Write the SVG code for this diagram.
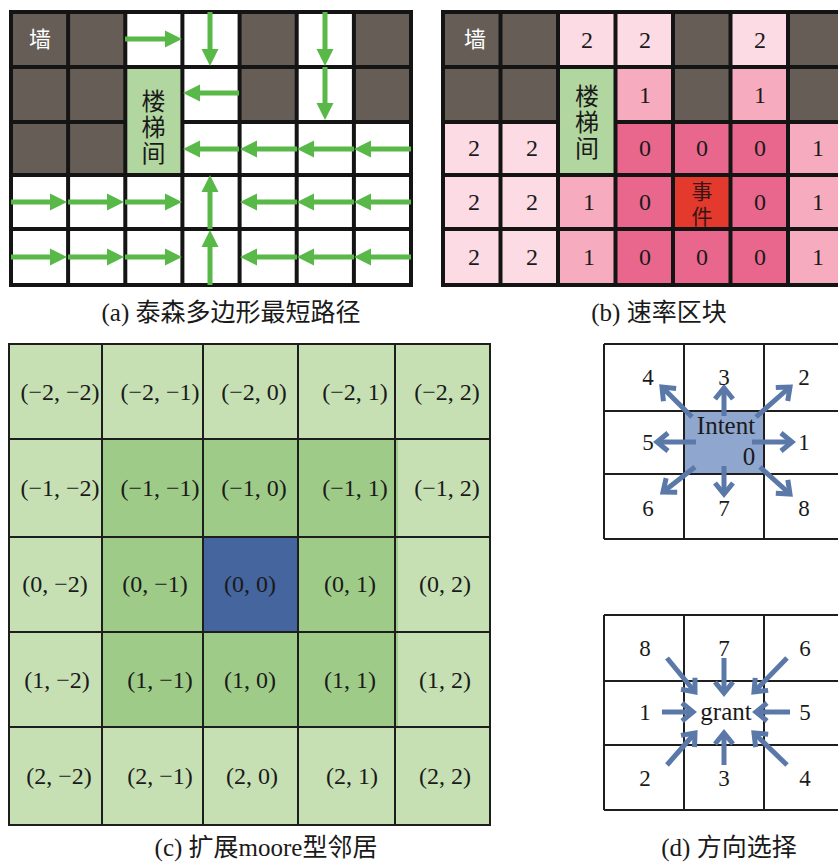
<svg xmlns="http://www.w3.org/2000/svg" width="838" height="864" viewBox="0 0 838 864">
<defs>
<style>
.t{font-family:"Liberation Serif","Noto Sans CJK SC",serif;fill:#1a1a1a;text-anchor:middle}
.cap{font-size:25px}
.n{font-size:24px}
.cj{font-size:24px}
.wl{font-size:22px;fill:#ffffff}
.W{fill:#655d56}
.S{fill:#b2d69f}
.L{fill:#fddbe4}
.M{fill:#f6abbf}
.D{fill:#e9678d}
.E{fill:#e4392d}
.g1{fill:#c6e0b4}
.g2{fill:#9fcb88}
.bl{fill:#45659f}
.grid{fill:none;stroke:#141414;stroke-width:4}
.grid2{fill:none;stroke:#1e1e1e;stroke-width:2}
.ga{stroke:#58b848;stroke-width:5;fill:none;marker-end:url(#gh)}
.ba{stroke:#5a78a8;stroke-width:5;fill:none;marker-end:url(#bh)}
</style>
<marker id="gh" markerUnits="userSpaceOnUse" markerWidth="20" markerHeight="20" viewBox="0 -10 20 20" refX="1" refY="0" orient="auto" overflow="visible">
<path d="M0,-8.5 L17,0 L0,8.5 z" fill="#58b848"/>
</marker>
<marker id="bh" markerUnits="userSpaceOnUse" markerWidth="24" markerHeight="24" viewBox="-12 -12 24 24" refX="0" refY="0" orient="auto" overflow="visible">
<path d="M-11,-9 L0,0 L-11,9" fill="none" stroke="#5a78a8" stroke-width="5"/>
</marker>
</defs>
<rect width="838" height="864" fill="#ffffff"/>

<!-- Panel (a) -->
<g id="panel-a">
<rect x="11" y="12" width="400" height="273" fill="#ffffff"/>
<g id="a-walls">
<rect class="W" x="11" y="12" width="57.1" height="55"/>
<rect class="W" x="68.1" y="12" width="57.2" height="55"/>
<rect class="W" x="239.6" y="12" width="57.1" height="55"/>
<rect class="W" x="353.9" y="12" width="57.1" height="55"/>
<rect class="W" x="11" y="67" width="57.1" height="55"/>
<rect class="W" x="68.1" y="67" width="57.2" height="55"/>
<rect class="W" x="239.6" y="67" width="57.1" height="55"/>
<rect class="W" x="353.9" y="67" width="57.1" height="55"/>
<rect class="W" x="11" y="122" width="57.1" height="53"/>
<rect class="W" x="68.1" y="122" width="57.2" height="53"/>
</g>
<g id="a-stairs"><rect class="S" x="125.3" y="67" width="57.1" height="108"/>
<text class="t cj" x="153.5" y="110">楼</text>
<text class="t cj" x="153.5" y="136">梯</text>
<text class="t cj" x="153.5" y="162">间</text>
</g>
<text class="t wl" x="40" y="47">墙</text>
<path class="grid" d="M11,12 H411 V285 H11 Z M68.1,12 V285 M125.3,12 V285 M182.4,12 V285 M239.6,12 V285 M296.7,12 V285 M353.9,12 V285 M11,67 H411 M11,122 H125.3 M182.4,122 H411 M11,175 H411 M11,229 H411"/>
</g>

<!-- Panel (b) -->
<g id="panel-b">
<rect class="W" x="443" y="12" width="57.5" height="55"/>
<rect class="W" x="500.5" y="12" width="57.5" height="55"/>
<rect class="L" x="558" y="12" width="57.5" height="55"/>
<rect class="L" x="615.5" y="12" width="57.5" height="55"/>
<rect class="W" x="673" y="12" width="57.5" height="55"/>
<rect class="L" x="730.5" y="12" width="57.5" height="55"/>
<rect class="W" x="788" y="12" width="57.5" height="55"/>
<rect class="W" x="443" y="67" width="57.5" height="55"/>
<rect class="W" x="500.5" y="67" width="57.5" height="55"/>
<rect class="S" x="558" y="67" width="57.5" height="108"/>
<rect class="M" x="615.5" y="67" width="57.5" height="55"/>
<rect class="W" x="673" y="67" width="57.5" height="55"/>
<rect class="M" x="730.5" y="67" width="57.5" height="55"/>
<rect class="W" x="788" y="67" width="57.5" height="55"/>
<rect class="L" x="443" y="122" width="57.5" height="53"/>
<rect class="L" x="500.5" y="122" width="57.5" height="53"/>
<rect class="D" x="615.5" y="122" width="57.5" height="53"/>
<rect class="D" x="673" y="122" width="57.5" height="53"/>
<rect class="D" x="730.5" y="122" width="57.5" height="53"/>
<rect class="M" x="788" y="122" width="57.5" height="53"/>
<rect class="L" x="443" y="175" width="57.5" height="54"/>
<rect class="L" x="500.5" y="175" width="57.5" height="54"/>
<rect class="M" x="558" y="175" width="57.5" height="54"/>
<rect class="D" x="615.5" y="175" width="57.5" height="54"/>
<rect class="E" x="673" y="175" width="57.5" height="54"/>
<rect class="D" x="730.5" y="175" width="57.5" height="54"/>
<rect class="M" x="788" y="175" width="57.5" height="54"/>
<rect class="L" x="443" y="229" width="57.5" height="56"/>
<rect class="L" x="500.5" y="229" width="57.5" height="56"/>
<rect class="M" x="558" y="229" width="57.5" height="56"/>
<rect class="D" x="615.5" y="229" width="57.5" height="56"/>
<rect class="D" x="673" y="229" width="57.5" height="56"/>
<rect class="D" x="730.5" y="229" width="57.5" height="56"/>
<rect class="M" x="788" y="229" width="57.5" height="56"/>
<path class="grid" d="M443,12 H845.5 V285 H443 Z M500.5,12 V285 M558,12 V285 M615.5,12 V285 M673,12 V285 M730.5,12 V285 M788,12 V285 M443,67 H845.5 M443,122 H558 M615.5,122 H845.5 M443,175 H845.5 M443,229 H845.5"/>
<text class="t wl" x="475" y="47">墙</text>
<text class="t cj" x="587" y="105">楼</text>
<text class="t cj" x="587" y="131">梯</text>
<text class="t cj" x="587" y="157">间</text>
<text class="t" x="702" y="199" style="fill:#3a1414;font-size:21px">事</text>
<text class="t" x="702" y="224" style="fill:#3a1414;font-size:21px">件</text>
<g class="t n">
<text x="587" y="48">2</text><text x="645" y="48">2</text><text x="760" y="48">2</text>
<text x="645" y="103">1</text><text x="760" y="103">1</text>
<text x="474" y="156">2</text><text x="532" y="156">2</text><text x="645" y="156">0</text><text x="702" y="156">0</text><text x="760" y="156">0</text><text x="818" y="156">1</text>
<text x="474" y="210">2</text><text x="532" y="210">2</text><text x="589" y="210">1</text><text x="645" y="210">0</text><text x="760" y="210">0</text><text x="818" y="210">1</text>
<text x="474" y="265">2</text><text x="532" y="265">2</text><text x="589" y="265">1</text><text x="645" y="265">0</text><text x="702" y="265">0</text><text x="760" y="265">0</text><text x="818" y="265">1</text>
</g>
</g>

<!-- Panel (c) -->
<g id="panel-c">
<rect class="g1" x="9" y="344" width="481" height="481"/>
<rect class="g2" x="102" y="439" width="296" height="288"/>
<rect class="bl" x="203" y="537" width="95" height="95"/>
<path class="grid2" d="M9,344 H490 V825 H9 Z M102,344 V825 M203,344 V825 M298,344 V825 M395,344 V825 M9,439 H490 M9,537 H490 M9,632 H490 M9,727 H490"/>
<g class="t n">
<text x="60" y="400">(−2, −2)</text><text x="160" y="400">(−2, −1)</text><text x="254" y="400">(−2, 0)</text><text x="355" y="400">(−2, 1)</text><text x="447" y="400">(−2, 2)</text>
<text x="60" y="496">(−1, −2)</text><text x="160" y="496">(−1, −1)</text><text x="254" y="496">(−1, 0)</text><text x="355" y="496">(−1, 1)</text><text x="447" y="496">(−1, 2)</text>
<text x="55" y="592">(0, −2)</text><text x="155" y="592">(0, −1)</text><text x="250" y="592">(0, 0)</text><text x="350" y="592">(0, 1)</text><text x="445" y="592">(0, 2)</text>
<text x="57" y="688">(1, −2)</text><text x="160" y="688">(1, −1)</text><text x="250" y="688">(1, 0)</text><text x="350" y="688">(1, 1)</text><text x="445" y="688">(1, 2)</text>
<text x="59" y="784">(2, −2)</text><text x="160" y="784">(2, −1)</text><text x="252" y="784">(2, 0)</text><text x="352" y="784">(2, 1)</text><text x="445" y="784">(2, 2)</text>
</g>
</g>

<!-- Panel (d) -->
<g id="panel-d-intent">
<rect x="684" y="411" width="80" height="63" fill="#8fa6cf"/>
<path class="grid2" d="M604,344 H845 M604,411 H845 M604,474 H845 M604,539 H845 M604,344 V539 M684,344 V539 M764,344 V539"/>
</g>
<g id="panel-d-grant">
<path class="grid2" d="M604,615 H845 M604,681 H845 M604,745 H845 M604,810 H845 M604,615 V810 M684,615 V810 M764,615 V810"/>
</g>

<!-- connectors -->
<g id="connectors">
<g id="a-arrows">
<line class="ga" x1="125" y1="39" x2="166" y2="39"/>
<line class="ga" x1="210" y1="12" x2="210" y2="50"/>
<line class="ga" x1="325" y1="12" x2="325" y2="50"/>
<line class="ga" x1="325" y1="67" x2="325" y2="104"/>
<line class="ga" x1="239" y1="93" x2="199" y2="93"/>
<line class="ga" x1="239" y1="149" x2="199" y2="149"/>
<line class="ga" x1="297" y1="149" x2="256" y2="149"/>
<line class="ga" x1="354" y1="149" x2="313" y2="149"/>
<line class="ga" x1="411" y1="149" x2="370" y2="149"/>
<line class="ga" x1="11" y1="202" x2="51" y2="202"/>
<line class="ga" x1="68" y1="202" x2="108" y2="202"/>
<line class="ga" x1="125" y1="202" x2="166" y2="202"/>
<line class="ga" x1="210" y1="229" x2="210" y2="191"/>
<line class="ga" x1="297" y1="202" x2="256" y2="202"/>
<line class="ga" x1="354" y1="202" x2="313" y2="202"/>
<line class="ga" x1="411" y1="202" x2="370" y2="202"/>
<line class="ga" x1="11" y1="257" x2="51" y2="257"/>
<line class="ga" x1="68" y1="257" x2="108" y2="257"/>
<line class="ga" x1="125" y1="257" x2="166" y2="257"/>
<line class="ga" x1="210" y1="285" x2="210" y2="246"/>
<line class="ga" x1="297" y1="257" x2="256" y2="257"/>
<line class="ga" x1="354" y1="257" x2="313" y2="257"/>
<line class="ga" x1="411" y1="257" x2="370" y2="257"/>
</g>
<g id="d-out-arrows">
<line class="ba" x1="692" y1="417" x2="662" y2="387"/>
<line class="ba" x1="724" y1="416" x2="724" y2="388"/>
<line class="ba" x1="756" y1="417" x2="790" y2="387"/>
<line class="ba" x1="696" y1="442" x2="657" y2="442"/>
<line class="ba" x1="752" y1="442" x2="792" y2="442"/>
<line class="ba" x1="695" y1="467" x2="663" y2="492"/>
<line class="ba" x1="724" y1="466" x2="724" y2="494"/>
<line class="ba" x1="760" y1="467" x2="790" y2="494"/>
</g>
<g id="d-in-arrows">
<line class="ba" x1="667" y1="658" x2="695" y2="692"/>
<line class="ba" x1="724" y1="658" x2="724" y2="693"/>
<line class="ba" x1="787" y1="658" x2="754" y2="692"/>
<line class="ba" x1="662" y1="712" x2="693" y2="712"/>
<line class="ba" x1="790" y1="712" x2="756" y2="712"/>
<line class="ba" x1="667" y1="765" x2="695" y2="733"/>
<line class="ba" x1="724" y1="765" x2="724" y2="733"/>
<line class="ba" x1="787" y1="765" x2="754" y2="733"/>
</g>
</g>

<g id="d-labels" class="t" style="font-size:23px">
<text x="648" y="385">4</text><text x="724" y="385">3</text><text x="804" y="385">2</text>
<text x="648" y="450">5</text><text x="804" y="450">1</text>
<text x="648" y="516">6</text><text x="724" y="516">7</text><text x="804" y="516">8</text>
<text x="726" y="434" style="font-size:25px">Intent</text>
<text x="749" y="465" style="font-size:25px">0</text>
<text x="645" y="656">8</text><text x="724" y="656">7</text><text x="805" y="656">6</text>
<text x="645" y="720">1</text><text x="805" y="720">5</text>
<text x="645" y="786">2</text><text x="724" y="786">3</text><text x="805" y="786">4</text>
<text x="726" y="720" style="font-size:25px">grant</text>
</g>

<g id="captions" class="t cap">
<text x="231" y="321">(a) 泰森多边形最短路径</text>
<text x="659" y="321">(b) 速率区块</text>
<text x="266" y="856">(c) 扩展moore型邻居</text>
<text x="729" y="856">(d) 方向选择</text>
</g>
</svg>
